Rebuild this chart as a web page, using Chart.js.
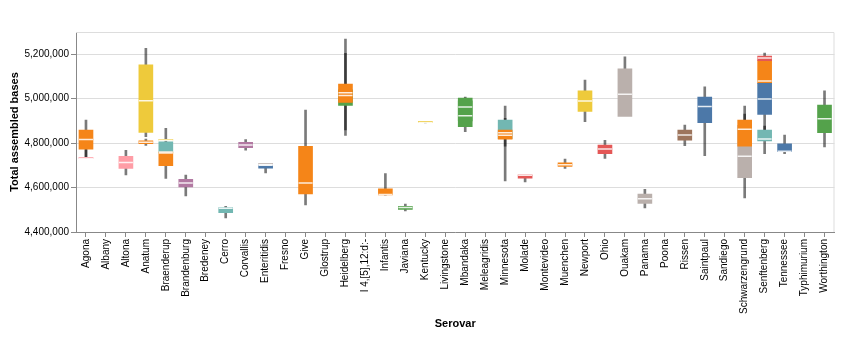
<!DOCTYPE html>
<html>
<head>
<meta charset="utf-8">
<script src="https://cdn.jsdelivr.net/npm/chart.js@4/dist/chart.umd.min.js"></script>
<style>
  body { margin: 0; background: #fff; }
  #wrap { width: 843px; height: 338px; }
</style>
</head>
<body>
<div id="wrap"><canvas id="chart"></canvas></div>
<script>
// ---------------- DATA ----------------
const serovars = [
    "Agona", "Albany", "Altona", "Anatum", "Braenderup", "Brandenburg", "Bredeney",
    "Cerro", "Corvallis", "Enteritidis", "Fresno", "Give", "Glostrup", "Heidelberg",
    "I 4,[5],12:d:-", "Infantis", "Javiana", "Kentucky", "Livingstone", "Mbandaka",
    "Meleagridis", "Minnesota", "Molade", "Montevideo", "Muenchen", "Newport", "Ohio",
    "Ouakam", "Panama", "Poona", "Rissen", "Saintpaul", "Sandiego", "Schwarzengrund",
    "Senftenberg", "Tennessee", "Typhimurium", "Worthington"
];

// one entry per box, later boxes sit on top of earlier ones
const boxSerovar = [
    "Agona", "Agona", "Altona", "Anatum", "Anatum", "Braenderup", "Braenderup",
    "Braenderup", "Brandenburg", "Cerro", "Corvallis", "Enteritidis", "Enteritidis",
    "Give", "Heidelberg", "Heidelberg", "Infantis", "Javiana", "Kentucky", "Mbandaka",
    "Mbandaka", "Minnesota", "Minnesota", "Molade", "Muenchen", "Newport", "Ohio",
    "Ouakam", "Panama", "Rissen", "Saintpaul", "Schwarzengrund", "Schwarzengrund",
    "Senftenberg", "Senftenberg", "Senftenberg", "Senftenberg", "Tennessee", "Worthington"
];
const boxGroup = [
    7, 1, 7, 5, 1, 5, 3,
    1, 6, 3, 6, 9, 0,
    1, 4, 1, 1, 4, 5, 4,
    4, 3, 1, 2, 1, 5, 2,
    9, 9, 8, 0, 9, 1,
    1, 0, 2, 3, 0, 4
];
const boxMin = [
    4731000, 4731000, 4657000, 4829000, 4790000, 4813000, 4758000,
    4641000, 4562000, 4463000, 4768000, 4704000, 4666000,
    4522000, 4835000, 4859000, 4566000, 4495000, 4891000, 4851000,
    4880000, 4630000, 4786000, 4625000, 4686000, 4896000, 4731000,
    4920000, 4508000, 4788000, 4743000, 4553000, 4786000,
    5000000, 4859000, 5165000, 4753000, 4753000, 4783000
];
const boxQ1 = [
    4731000, 4773000, 4686000, 4848000, 4797000, 4813000, 4758000,
    4698000, 4603000, 4487000, 4779000, 4704000, 4687000,
    4571000, 4970000, 4983000, 4567000, 4502000, 4893000, 4874000,
    4900000, 4820000, 4818000, 4642000, 4695000, 4943000, 4752000,
    4920000, 4529000, 4813000, 4892000, 4644000, 4786000,
    5069000, 4929000, 5171000, 4810000, 4761000, 4847000
];
const boxMedian = [
    4731000, 4816000, 4713000, 4991000, 4804000, 4813000, 4760000,
    4755000, 4621000, 4507000, 4791000, 4704000, 4700000,
    4621000, 5014000, 5027000, 4569000, 4510000, 4893000, 4923000,
    4962000, 4847000, 4835000, 4655000, 4703000, 4989000, 4773000,
    5020000, 4550000, 4836000, 4965000, 4741000, 4862000,
    5080000, 4998000, 5183000, 4818000, 4763000, 4910000
];
const boxQ3 = [
    4731000, 4859000, 4741000, 5152000, 4810000, 4813000, 4806000,
    4760000, 4637000, 4510000, 4803000, 4704000, 4699000,
    4786000, 5040000, 5066000, 4594000, 4516000, 4893000, 4990000,
    5003000, 4904000, 4859000, 4657000, 4711000, 5035000, 4791000,
    5134000, 4571000, 4859000, 5007000, 4880000, 4904000,
    5171000, 5069000, 5192000, 4859000, 4797000, 4971000
];
const boxMax = [
    4771000, 4904000, 4768000, 5227000, 4818000, 4813000, 4866000,
    4780000, 4656000, 4516000, 4816000, 4704000, 4699000,
    4949000, 5204000, 5268000, 4663000, 4526000, 4895000, 5003000,
    5007000, 4967000, 4911000, 4657000, 4728000, 5084000, 4813000,
    5188000, 4592000, 4881000, 5053000, 4931000, 4967000,
    5180000, 5100000, 5205000, 4877000, 4836000, 5035000
];

const yTicks = [4400000, 4600000, 4800000, 5000000, 5200000];

// tableau10
const groupColors = [
    "#4c78a8", "#f58518", "#e45756", "#72b7b2", "#54a24b",
    "#eeca3b", "#b279a2", "#ff9da6", "#9d755d", "#bab0ac"
];

// ---------------- DATASETS ----------------
const whiskerData = [];
const boxData = [];
const boxColors = [];
const medianData = [];

boxSerovar.forEach((s, i) => {
    if (boxMin[i] < boxQ1[i]) whiskerData.push({ x: s, y: [boxMin[i], boxQ1[i]] });
    if (boxQ3[i] < boxMax[i]) whiskerData.push({ x: s, y: [boxQ3[i], boxMax[i]] });
    boxData.push({ x: s, y: [boxQ1[i], boxQ3[i]] });
    boxColors.push(groupColors[boxGroup[i]]);
    medianData.push({ x: s, y: boxMedian[i] });
});

const FONT = "'Liberation Sans', Arial, Helvetica, sans-serif";

// light frame along the top and right of the plot
const framePlugin = {
    id: "frame",
    beforeDatasetsDraw(chart) {
        const { ctx, chartArea: a } = chart;
        ctx.save();
        ctx.strokeStyle = "#ddd";
        ctx.lineWidth = 1;
        ctx.beginPath();
        ctx.moveTo(a.left, a.top + 0.5);
        ctx.lineTo(a.right - 0.5, a.top + 0.5);
        ctx.lineTo(a.right - 0.5, a.bottom);
        ctx.stroke();
        ctx.restore();
    }
};

// ---------------- CHART ----------------
new Chart(document.getElementById("chart"), {
    type: "bar",
    data: {
        labels: serovars,
        datasets: [
            {
                type: "line",
                data: medianData,
                showLine: false,
                pointStyle: "line",
                pointRadius: 7,
                pointBorderWidth: 1.5,
                pointBorderColor: "rgba(255,255,255,0.85)",
                pointBackgroundColor: "rgba(255,255,255,0.85)",
                order: 0
            },
            {
                data: boxData,
                backgroundColor: boxColors,
                barThickness: 14,
                minBarLength: 1,
                grouped: false,
                order: 1
            },
            {
                data: whiskerData,
                backgroundColor: "rgba(0,0,0,0.52)",
                barThickness: 2,
                grouped: false,
                order: 2
            }
        ]
    },
    options: {
        responsive: true,
        maintainAspectRatio: false,
        animation: false,
        layout: { padding: { top: 32, right: 8, left: 0, bottom: 0 } },
        plugins: {
            legend: { display: false },
            tooltip: { enabled: false }
        },
        scales: {
            x: {
                offset: true,
                grid: {
                    offset: false,
                    drawOnChartArea: false,
                    tickLength: 5,
                    color: "#888"
                },
                border: { color: "#888" },
                ticks: {
                    autoSkip: false,
                    minRotation: 90,
                    maxRotation: 90,
                    padding: 2,
                    color: "#000",
                    font: { family: FONT, size: 10 }
                },
                title: {
                    display: true,
                    text: "Serovar",
                    color: "#000",
                    padding: { top: 4, bottom: 7 },
                    font: { family: FONT, size: 11, weight: "bold" }
                },
                afterFit(scale) { scale.height = 106; }
            },
            y: {
                min: 4400000,
                max: 5300000,
                afterBuildTicks(scale) {
                    scale.ticks = yTicks.map(v => ({ value: v }));
                },
                grid: {
                    color: "#ddd",
                    tickColor: "#888",
                    tickLength: 5
                },
                border: { color: "#888" },
                ticks: {
                    padding: 2,
                    color: "#000",
                    font: { family: FONT, size: 10 },
                    callback: v => v.toLocaleString("en-US")
                },
                title: {
                    display: true,
                    text: "Total assembled bases",
                    color: "#000",
                    padding: { top: 8, bottom: 4 },
                    font: { family: FONT, size: 11, weight: "bold" }
                },
                afterFit(scale) { scale.width = 76; }
            }
        }
    },
    plugins: [framePlugin]
});
</script>
</body>
</html>
